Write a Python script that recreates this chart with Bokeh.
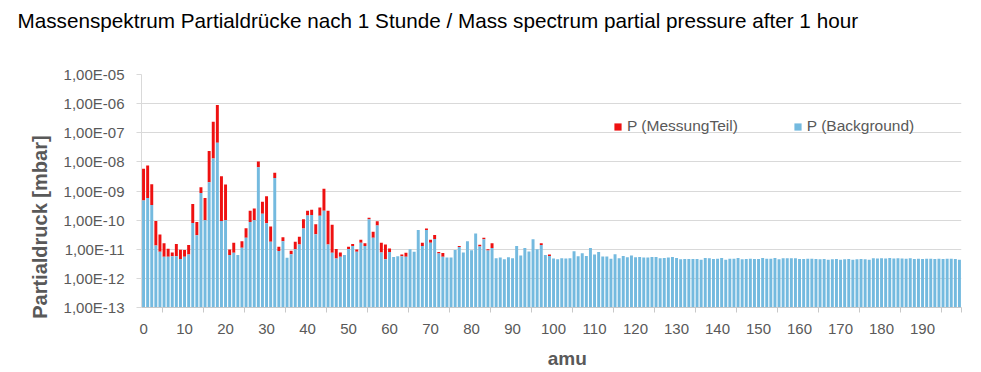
from bokeh.plotting import figure
from bokeh.models import (ColumnDataSource, FixedTicker, CustomJSTickFormatter,
                          Legend, LegendItem, Range1d, Title)
from bokeh.embed import file_html
from bokeh.resources import INLINE

# ---------------- data ----------------
amu = list(range(200))

background = [
    4.7e-10, 5.7e-10, 3.3e-10, 1.35e-11, 8.2e-12, 5.5e-12, 5.5e-12, 5.7e-12, 5.7e-12, 4.6e-12,
    5.5e-12, 6.6e-12, 8.0e-11, 3.0e-11, 8.5e-10, 1.0e-10, 2.0e-9, 1.3e-8, 4.5e-8, 9.4e-11,
    1.0e-10, 6.3e-12, 7.6e-12, 6.3e-12, 1.12e-11, 2.5e-11, 8.7e-11, 1.0e-10, 6.6e-9, 1.65e-10,
    7.8e-11, 1.8e-11, 2.8e-9, 8.7e-12, 1.9e-11, 5.1e-12, 6.8e-12, 1.0e-11, 1.47e-11, 5.2e-11,
    1.44e-10, 1.5e-10, 3.3e-11, 1.4e-10, 2.1e-10, 1.47e-11, 7.6e-12, 4.8e-12, 5.5e-12, 6.3e-12,
    1.02e-11, 1.3e-11, 8.2e-12, 1.67e-11, 1.3e-11, 1.07e-10, 2.5e-11, 6.5e-11, 7.8e-12, 4.5e-12,
    8.0e-12, 5.4e-12, 5.7e-12, 5.7e-12, 5.5e-12, 1.0e-11, 8.2e-12, 4.6e-11, 1.3e-11, 4.6e-11,
    1.67e-11, 2.25e-11, 7.2e-12, 5.5e-12, 5.2e-12, 5.2e-12, 9.4e-12, 1.2e-11, 7.8e-12, 1.9e-11,
    9.2e-12, 3.5e-11, 1.25e-11, 2.2e-11, 9.1e-12, 1.1e-11, 4.9e-12, 5.2e-12, 4.5e-12, 5.3e-12,
    4.9e-12, 1.3e-11, 6.1e-12, 1.1e-11, 8.4e-12, 2.2e-11, 1.0e-11, 1.4e-11, 6.3e-12, 5.9e-12,
    4.8e-12, 4.5e-12, 4.9e-12, 4.8e-12, 4.9e-12, 8.5e-12, 5.8e-12, 7.3e-12, 5.9e-12, 1.1e-11,
    6.6e-12, 8.1e-12, 5.6e-12, 5.6e-12, 4.7e-12, 6.7e-12, 4.9e-12, 5.9e-12, 5.3e-12, 6.1e-12,
    5.3e-12, 5.4e-12, 5.2e-12, 5.2e-12, 5.4e-12, 5.4e-12, 4.9e-12, 5.0e-12, 5.2e-12, 5.4e-12,
    5.0e-12, 4.5e-12, 4.6e-12, 4.6e-12, 4.6e-12, 4.6e-12, 4.4e-12, 5.0e-12, 4.9e-12, 4.6e-12,
    4.7e-12, 5.0e-12, 4.4e-12, 4.7e-12, 4.7e-12, 5.0e-12, 4.5e-12, 4.6e-12, 4.7e-12, 4.6e-12,
    4.6e-12, 5.0e-12, 4.7e-12, 4.7e-12, 5.0e-12, 4.5e-12, 4.9e-12, 4.9e-12, 4.9e-12, 4.9e-12,
    4.6e-12, 4.6e-12, 4.7e-12, 4.7e-12, 4.6e-12, 4.5e-12, 4.6e-12, 4.4e-12, 4.5e-12, 4.6e-12,
    4.4e-12, 4.5e-12, 4.6e-12, 4.4e-12, 4.5e-12, 4.6e-12, 4.5e-12, 4.4e-12, 4.9e-12, 4.8e-12,
    4.9e-12, 4.8e-12, 5.0e-12, 4.8e-12, 4.9e-12, 4.8e-12, 4.7e-12, 4.9e-12, 4.6e-12, 4.7e-12,
    4.6e-12, 4.7e-12, 4.7e-12, 4.6e-12, 4.7e-12, 4.6e-12, 4.7e-12, 4.7e-12, 4.6e-12, 4.4e-12,
]

messung_0_99 = [
    5.8e-9, 7.5e-9, 1.7e-9, 9.3e-11, 3.2e-11, 1.6e-11, 1.05e-11, 7.8e-12, 1.5e-11, 9.6e-12,
    9.4e-12, 1.4e-11, 3.6e-10, 8.7e-11, 1.35e-9, 5.7e-10, 2.35e-8, 2.4e-7, 8.9e-7, 3.2e-9,
    1.66e-9, 9.8e-12, 1.67e-11, 6.3e-12, 1.9e-11, 5.3e-11, 2.1e-10, 2.5e-10, 1.03e-8, 4.3e-10,
    6.6e-10, 6.0e-11, 4.2e-9, 1.23e-11, 2.6e-11, 5.1e-12, 8.9e-12, 1.8e-11, 2.7e-11, 1.07e-10,
    2.1e-10, 2.25e-10, 7.2e-11, 2.7e-10, 1.2e-9, 2.1e-10, 6.9e-11, 1.02e-11, 7.8e-12, 6.3e-12,
    1.23e-11, 1.5e-11, 9.8e-12, 2.1e-11, 1.6e-11, 1.2e-10, 4.0e-11, 9.2e-11, 1.67e-11, 1.47e-11,
    1.07e-11, 5.4e-12, 5.7e-12, 6.6e-12, 7.6e-12, 1.0e-11, 8.2e-12, 4.6e-11, 1.67e-11, 5.2e-11,
    2.1e-11, 3.1e-11, 8.0e-12, 7.4e-12, 5.2e-12, 5.2e-12, 9.4e-12, 1.3e-11, 7.8e-12, 1.9e-11,
    9.2e-12, 3.5e-11, 1.42e-11, 2.5e-11, 1.0e-11, 1.6e-11, 4.9e-12, 5.2e-12, 4.5e-12, 5.3e-12,
    4.9e-12, 1.3e-11, 6.1e-12, 1.1e-11, 8.4e-12, 2.2e-11, 1.0e-11, 1.6e-11, 6.3e-12, 6.6e-12,
]
# above amu 99 the measurement is not visible above the background
messung = messung_0_99 + background[100:]

x_tick_labels = list(range(0, 200, 10))
y_ticks = [1e-13, 1e-12, 1e-11, 1e-10, 1e-9, 1e-8, 1e-7, 1e-6, 1e-5]

title_text = "Massenspektrum Partialdrücke nach 1 Stunde / Mass spectrum partial pressure after 1 hour"
y_title = "Partialdruck [mbar]"
x_title = "amu"
name_meas = "P (MessungTeil)"
name_bg = "P (Background)"

RED = "#EE1111"
BLUE = "#74BADF"
GRAY_TXT = "#595959"
GRID = "#D9D9D9"
BASE = 1e-13
NB = "\u00a0"

# ---------------- figure ----------------
W, H = 980, 371
FL, FR, FB = 141, 19, 64

p = figure(width=W, height=H, output_backend="svg", toolbar_location=None,
           y_axis_type="log",
           x_range=Range1d(-0.5, 199.5), y_range=Range1d(1e-13, 1e-5),
           min_border_left=FL, min_border_right=FR,
           min_border_top=0, min_border_bottom=FB)
p.outline_line_color = None
p.background_fill_color = "white"
p.border_fill_color = "white"

# spacer between the chart title and the plot area (added first: nearest the frame)
p.add_layout(Title(text=NB, text_font_size="1px", standoff=29), "above")
p.add_layout(Title(text=title_text, align="left", vertical_align="top",
                   offset=17 - FL, standoff=17,
                   text_font="Liberation Sans", text_font_size="20.7px",
                   text_font_style="normal", text_color="black"), "above")

src = ColumnDataSource(dict(
    x=amu,
    bg=background,
    meas=messung,
    meas_top=[max(m, b) for m, b in zip(messung, background)],
    base=[BASE] * len(amu),
))

r_meas = p.vbar(x="x", bottom="bg", top="meas_top", width=0.72, source=src,
                fill_color=RED, line_color=None)
r_bg = p.vbar(x="x", bottom="base", top="bg", width=0.72, source=src,
              fill_color=BLUE, line_color=None)

# ---------------- axes ----------------
yt = FixedTicker(ticks=y_ticks, minor_ticks=[])
p.yaxis.ticker = yt
p.ygrid.ticker = yt
p.yaxis.formatter = CustomJSTickFormatter(code="""
const e = Math.round(Math.log10(tick));
const s = e < 0 ? '-' : '+';
return '1,00E' + s + String(Math.abs(e)).padStart(2, '0');
""")
p.yaxis.major_tick_out = 5
p.yaxis.major_tick_in = 0
p.yaxis.minor_tick_out = 0
p.yaxis.minor_tick_in = 0
p.yaxis.major_tick_line_color = GRID
p.yaxis.axis_line_color = GRID
p.yaxis.major_label_text_font = "Liberation Sans"
p.yaxis.major_label_text_font_size = "15px"
p.yaxis.major_label_text_color = GRAY_TXT
p.yaxis.major_label_standoff = 12
p.yaxis.axis_label = y_title + NB * 13
p.yaxis.axis_label_text_font = "Liberation Sans"
p.yaxis.axis_label_text_font_style = "bold"
p.yaxis.axis_label_text_font_size = "20px"
p.yaxis.axis_label_text_color = GRAY_TXT
p.yaxis.axis_label_standoff = 10

xt = FixedTicker(ticks=x_tick_labels,
                 minor_ticks=[t + 4.5 for t in x_tick_labels] + [199.5])
p.xaxis.ticker = xt
p.xaxis.major_tick_out = 0
p.xaxis.major_tick_in = 0
p.xaxis.minor_tick_out = 5
p.xaxis.minor_tick_in = 0
p.xaxis.minor_tick_line_color = "#C8C8C8"
p.xaxis.axis_line_color = "#C8C8C8"
p.xaxis.major_label_text_font = "Liberation Sans"
p.xaxis.major_label_text_font_size = "15px"
p.xaxis.major_label_text_color = GRAY_TXT
p.xaxis.major_label_standoff = 11
p.xaxis.axis_label = NB * 6 + x_title
p.xaxis.axis_label_text_font = "Liberation Sans"
p.xaxis.axis_label_text_font_style = "bold"
p.xaxis.axis_label_text_font_size = "19px"
p.xaxis.axis_label_text_color = GRAY_TXT
p.xaxis.axis_label_standoff = 11

p.xgrid.visible = False
p.ygrid.grid_line_color = GRID
p.ygrid.grid_line_width = 1

# ---------------- legend ----------------
legend = Legend(items=[LegendItem(label=name_meas, renderers=[r_meas]),
                       LegendItem(label=name_bg, renderers=[r_bg])],
                orientation="horizontal", location=(472, 172),
                glyph_width=9, glyph_height=9, label_standoff=5, spacing=55,
                padding=0, margin=0, border_line_color=None,
                background_fill_alpha=0,
                label_text_font="Liberation Sans", label_text_font_size="15.5px",
                label_text_color=GRAY_TXT, label_height=9)
p.add_layout(legend)

open("out.html", "w").write(file_html(p, INLINE))
